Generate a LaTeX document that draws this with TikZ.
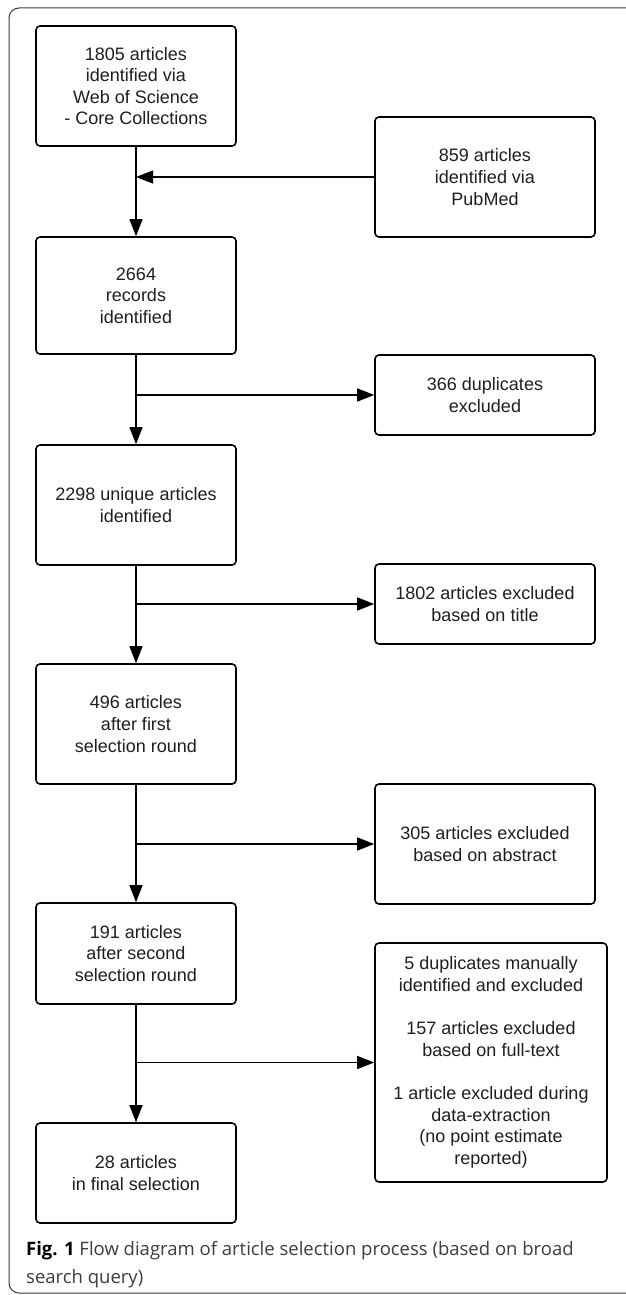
\documentclass[tikz,border=0pt]{standalone}
\usepackage{fontspec}
\setmainfont{Liberation Sans}
\newfontfamily\capfont{Open Sans}
\usepackage{tikz}
\usetikzlibrary{arrows.meta}
\usepackage{xcolor}

\definecolor{framegray}{HTML}{3A3A3A}
\definecolor{capgray}{HTML}{3C3C3C}
\definecolor{boxtext}{HTML}{1E1E1E}

\begin{document}
\begin{tikzpicture}[x = 1pt, y = -1pt,
	box/.style = {draw, line width = 1.6pt, rounded corners = 4pt, align = center, inner sep = 0pt, minimum width = 200pt, text = boxtext, font = \fontsize{18}{21.6}\selectfont},
	sidebox/.style = {box, minimum width = 220pt},
	flow/.style = {line width = 1.3pt, -{Triangle[length = 17pt, width = 13pt]}}]
	
	\useasboundingbox (0,0) rectangle (625,1295);
	\draw[line width = 1pt, framegray, rounded corners = 10pt] (640,8) -- (9,8) -- (9,1293) -- (640,1293);
	
	\node[box, minimum height = 120pt] (wos) at (136,86) {1805 articles\\identified via\\Web of Science\\- Core Collections};
	\node[sidebox, minimum height = 120pt] (pubmed) at (485,177) {859 articles\\identified via\\PubMed};
	\node[box, minimum height = 117pt] (records) at (136,295.5) {2664\\records\\identified};
	\node[sidebox, minimum height = 80pt] (dupl) at (485,395) {366 duplicates\\excluded};
	\node[box, minimum height = 120pt] (unique) at (136,505) {2298 unique articles\\identified};
	\node[sidebox, minimum height = 80pt] (title) at (485,604) {1802 articles excluded\\based on title};
	\node[box, minimum height = 120pt] (first) at (136,724) {496 articles\\after first\\selection round};
	\node[sidebox, minimum height = 120pt] (abstract) at (485,844) {305 articles excluded\\based on abstract};
	\node[box, minimum height = 101pt] (second) at (136,953.5) {191 articles\\after second\\selection round};
	\node[sidebox, minimum width = 232pt, minimum height = 239pt] (fulltext) at (491,1062.5) {5 duplicates manually\\identified and excluded\\[21.6pt]157 articles excluded\\based on full-text\\[21.6pt]1 article excluded during\\data-extraction\\ (no point estimate\\reported)};
	\node[box, minimum height = 100pt] (final) at (136,1173) {28 articles\\in final selection};
	
	\draw[flow] (wos) -- (records);
	\draw[flow] (pubmed.west) -- (pubmed.west -| wos.south);
	\draw[flow] (records) -- (unique);
	\draw[flow] (records.south |- dupl.west) -- (dupl.west);
	\draw[flow] (unique) -- (first);
	\draw[flow] (unique.south |- title.west) -- (title.west);
	\draw[flow] (first) -- (second);
	\draw[flow] (first.south |- abstract.west) -- (abstract.west);
	\draw[flow] (second) -- (final);
	\draw[flow] (second.south |- fulltext.west) -- (fulltext.west);
	
	\node[anchor = base west, align = left, inner sep = 0pt, text = capgray, font = \capfont\fontsize{18.5}{28}\selectfont] (caption) at (26,1283) {{\color{black}\bfseries Fig. 1} Flow diagram of article selection process (based on broad\\search query)};
\end{tikzpicture}
\end{document}
